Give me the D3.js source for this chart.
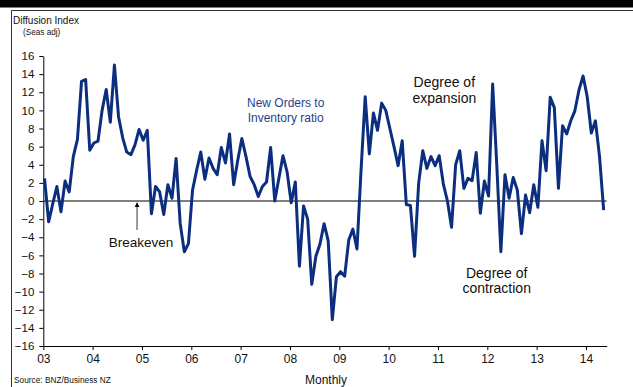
<!DOCTYPE html>
<html>
<head>
<meta charset="utf-8">
<script src="https://cdn.jsdelivr.net/npm/d3@7"></script>
<style>
  body { margin: 0; background: #fff; }
  svg { display: block; font-family: "Liberation Sans", Arial, sans-serif; }
</style>
</head>
<body>
<div id="chart"></div>
<script>
// monthly diffusion index, Jan 2003 .. May 2014
var startYear = 2003;
var values = [
  2.5, -2.3, -0.3, 1.6, -1.2, 2.2, 1.0, 4.9, 6.8, 13.2, 13.4, 5.6,
  6.4, 6.6, 10.0, 12.3, 8.7, 15.0, 9.3, 7.0, 5.4, 5.1, 6.2, 7.9,
  6.7, 7.8, -1.4, 1.6, 1.0, -1.5, 1.8, 0.3, 4.7, -2.5, -5.6, -4.7,
  1.2, 3.4, 5.4, 2.4, 4.75, 3.6, 2.9, 5.9, 4.2, 7.4, 1.8, 4.5,
  6.9, 4.9, 2.7, 1.8, 0.5, 1.6, 2.1, 5.9, 0.0, 2.5, 5.0, 3.2,
  -0.2, 2.1, -7.2, -0.55, -2.0, -9.2, -6.1, -4.75, -2.5, -4.4, -13.1, -8.35,
  -7.8, -8.3, -4.3, -3.1, -5.3, 3.5, 11.5, 5.2, 9.7, 7.8, 10.8, 10.0,
  8.0, 6.0, 3.9, 6.65, -0.4, -0.5, -6.1, 1.95, 5.55, 3.6, 4.9, 3.9,
  5.0, 1.9, 0.0, -2.9, 4.0, 5.55, 1.4, 2.5, 2.25, 5.35, -1.35, 2.2,
  0.55, 12.9, 4.0, -5.6, 2.9, 0.3, 2.6, 1.2, -3.6, 0.65, -1.3, 1.8,
  -0.7, 6.65, 3.35, 11.45, 10.3, 1.4, 8.3, 7.4, 8.85, 9.95, 12.25, 13.8,
  11.5, 7.5, 8.85, 4.9, -1.0
];
var tickYears = [2003, 2004, 2005, 2006, 2007, 2008, 2009, 2010, 2011, 2012, 2013, 2014];
var tickLabels = ["03", "04", "05", "06", "07", "08", "09", "10", "11", "12", "13", "14"];
var yTicks = [-16, -14, -12, -10, -8, -6, -4, -2, 0, 2, 4, 6, 8, 10, 12, 14, 16];

var W = 633, H = 387;
var plot = {left: 43.3, right: 606.7, top: 56, bottom: 346};
var lineColor = "#0b2f7e";

var svg = d3.select("#chart").append("svg")
    .attr("width", W)
    .attr("height", H);

// frame: black band on top, thin lines top and left
svg.append("rect").attr("x", 0).attr("y", 0).attr("width", W).attr("height", 7.5).attr("fill", "#000");
svg.append("line").attr("x1", 11.5).attr("x2", W).attr("y1", 10.5).attr("y2", 10.5)
    .attr("stroke", "#333").attr("stroke-width", 1);
svg.append("line").attr("x1", 11.5).attr("x2", 11.5).attr("y1", 10.5).attr("y2", H)
    .attr("stroke", "#333").attr("stroke-width", 1);

var x = d3.scaleLinear()
    .domain([startYear, 2014.42])
    .range([plot.left, plot.right]);

var y = d3.scaleLinear()
    .domain([-16, 16])
    .range([plot.bottom, plot.top]);

// axes
var xAxis = svg.append("g")
    .attr("transform", "translate(0," + plot.bottom + ")")
    .call(d3.axisBottom(x)
      .tickValues(tickYears)
      .tickFormat(function(d, i) { return tickLabels[i]; })
      .tickSizeInner(4).tickSizeOuter(0).tickPadding(4));
xAxis.selectAll("text").attr("font-size", 12).attr("fill", "#111");

var yAxis = svg.append("g")
    .attr("transform", "translate(" + plot.left + ",0)")
    .call(d3.axisLeft(y)
      .tickValues(yTicks)
      .tickSizeInner(4).tickSizeOuter(0).tickPadding(5));
yAxis.selectAll("text").attr("font-size", 11.5).attr("fill", "#111");
svg.selectAll(".domain, .tick line").attr("stroke", "#000");
svg.selectAll(".tick text").attr("font-family", "Liberation Sans, Arial, sans-serif");

// zero line
svg.append("line")
    .attr("x1", plot.left).attr("x2", plot.right)
    .attr("y1", y(0)).attr("y2", y(0))
    .attr("stroke", "#000").attr("stroke-width", 1);

// series
var line = d3.line()
    .x(function(d, i) { return x(startYear + (i + 0.3) / 12); })
    .y(function(d) { return y(d); });

svg.append("path")
    .datum(values)
    .attr("d", line)
    .attr("fill", "none")
    .attr("stroke", lineColor)
    .attr("stroke-width", 3)
    .attr("stroke-linejoin", "round");

// breakeven arrow
var ax = x(2004.9);
svg.append("line")
    .attr("x1", ax).attr("x2", ax)
    .attr("y1", y(0) + 5).attr("y2", y(0) + 29)
    .attr("stroke", "#000").attr("stroke-width", 0.8);
svg.append("path")
    .attr("d", "M" + ax + "," + (y(0) + 1) + "l-2.3,5h4.6z")
    .attr("fill", "#000");

// labels
function label(txt, px, py, size, color, anchor) {
  return svg.append("text")
    .attr("x", px).attr("y", py)
    .attr("font-size", size)
    .attr("fill", color || "#111")
    .attr("text-anchor", anchor || "middle")
    .text(txt);
}

label("Diffusion Index", 13, 23.5, 10, "#111", "start");
label("(Seas adj)", 23, 35, 8.2, "#111", "start");
label("Breakeven", 141, 246.7, 13.5);
label("New Orders to", 285.7, 107.3, 12, "#1f3f8c");
label("Inventory ratio", 285.7, 121.7, 12, "#1f3f8c");
label("Degree of", 444.3, 87.3, 14);
label("expansion", 444.3, 102.7, 14);
label("Degree of", 496.7, 278.3, 14);
label("contraction", 496.7, 293.3, 14);
label("Source: BNZ/Business NZ", 14, 383, 8.3, "#111", "start");
label("Monthly", 326, 384, 12);
</script>
</body>
</html>
